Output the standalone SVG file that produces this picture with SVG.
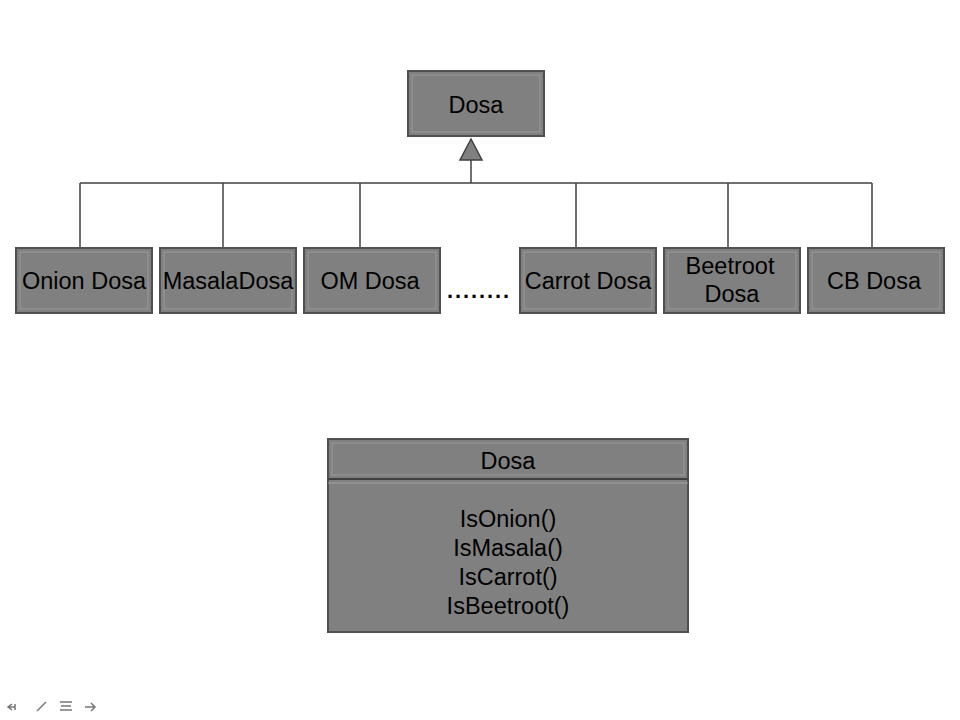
<svg xmlns="http://www.w3.org/2000/svg" width="960" height="720" viewBox="0 0 960 720">
<style>
.box{fill:#808080;stroke:#505050;stroke-width:2}
.inner{fill:none;stroke:#9a9a9a;stroke-width:1}
.t{font-family:"Liberation Sans",Arial,sans-serif;font-size:23.5px;fill:#000;text-anchor:middle}
.c{stroke:#404040;stroke-width:1.5;fill:none}
.ic{stroke:#777;stroke-width:1.5;fill:none}
</style>
<rect width="960" height="720" fill="#ffffff"/>
<g id="connectors">
<polygon points="471,139 460,160 482,160" fill="#808080" stroke="#404040" stroke-width="1.5"/>
<line class="c" x1="471" y1="160" x2="471" y2="183"/>
<line class="c" x1="80" y1="183" x2="872" y2="183"/>
<line class="c" x1="80" y1="183" x2="80" y2="248"/>
<line class="c" x1="223" y1="183" x2="223" y2="248"/>
<line class="c" x1="360" y1="183" x2="360" y2="248"/>
<line class="c" x1="576" y1="183" x2="576" y2="248"/>
<line class="c" x1="728" y1="183" x2="728" y2="248"/>
<line class="c" x1="872" y1="183" x2="872" y2="248"/>
</g>
<g id="dosa">
<rect class="box" x="408" y="71" width="136" height="65"/>
<rect class="inner" x="412" y="75" width="128" height="57"/>
<text class="t" x="476" y="113">Dosa</text>
</g>
<g id="onion">
<rect class="box" x="16" y="248" width="136" height="65"/>
<rect class="inner" x="20" y="252" width="128" height="57"/>
<text class="t" x="84" y="289">Onion Dosa</text>
</g>
<g id="masala">
<rect class="box" x="160" y="248" width="136" height="65"/>
<rect class="inner" x="164" y="252" width="128" height="57"/>
<text class="t" x="228" y="289">MasalaDosa</text>
</g>
<g id="om">
<rect class="box" x="304" y="248" width="136" height="65"/>
<rect class="inner" x="308" y="252" width="128" height="57"/>
<text class="t" x="370" y="289">OM Dosa</text>
</g>
<g id="dots">
<text x="447" y="298" style="font-family:'Liberation Sans',Arial,sans-serif;font-size:22px;font-weight:bold;fill:#000" textLength="62">........</text>
</g>
<g id="carrot">
<rect class="box" x="520" y="248" width="136" height="65"/>
<rect class="inner" x="524" y="252" width="128" height="57"/>
<text class="t" x="588" y="289">Carrot Dosa</text>
</g>
<g id="beetroot">
<rect class="box" x="664" y="248" width="136" height="65"/>
<rect class="inner" x="668" y="252" width="128" height="57"/>
<text class="t" x="730" y="274">Beetroot</text>
<text class="t" x="732" y="302">Dosa</text>
</g>
<g id="cb">
<rect class="box" x="808" y="248" width="136" height="65"/>
<rect class="inner" x="812" y="252" width="128" height="57"/>
<text class="t" x="874" y="289">CB Dosa</text>
</g>
<g id="dosa-class">
<rect class="box" x="328" y="439" width="360" height="193"/>
<rect class="inner" x="332" y="443" width="352" height="32"/>
<line x1="328" y1="479" x2="688" y2="479" stroke="#404040" stroke-width="2"/>
<line x1="328" y1="483" x2="688" y2="483" stroke="#a0a0a0" stroke-width="1"/>
<text class="t" x="508" y="469">Dosa</text>
<text class="t" x="508" y="527">IsOnion()</text>
<text class="t" x="508" y="556">IsMasala()</text>
<text class="t" x="508" y="585">IsCarrot()</text>
<text class="t" x="508" y="614">IsBeetroot()</text>
</g>
<g id="nav">
<path class="ic" d="M12,704 l-4,3 l4,3 M8,707 h7 M15,704 v6"/>
<path class="ic" d="M37,711 l9,-9"/>
<path class="ic" d="M60,702 h12 M61,706 h10 M60,710 h12"/>
<path class="ic" d="M85,707 h10 M91,703 l4,4 l-4,4"/>
</g>
</svg>
